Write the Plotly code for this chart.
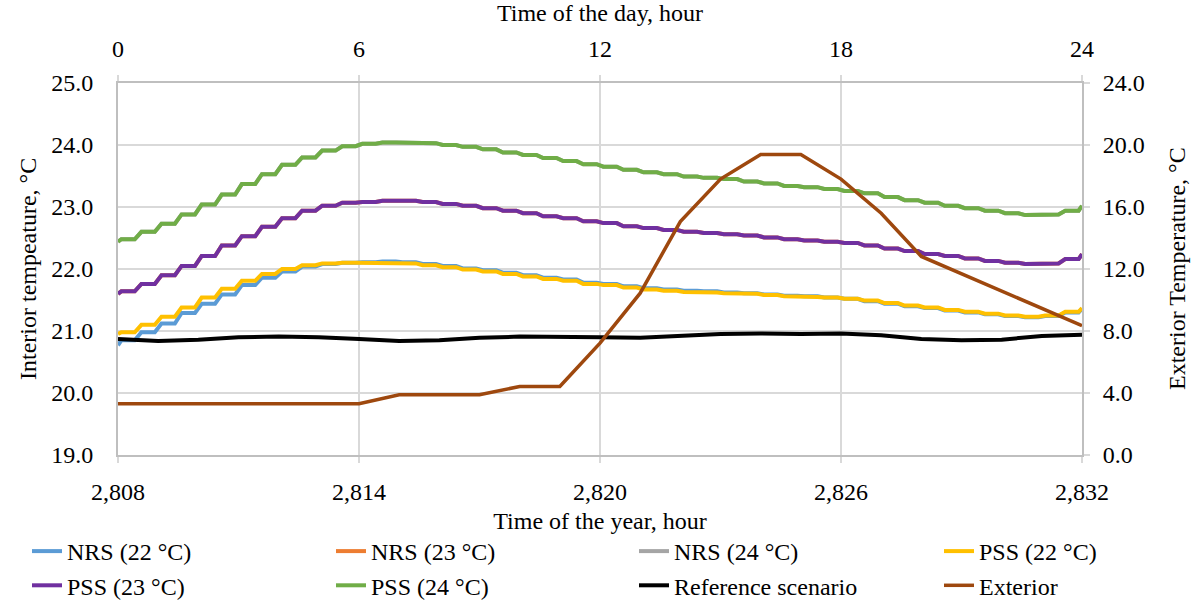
import plotly.graph_objects as go

# ---------------- data ----------------
year_start = 2808
x_ticks_year = [2808, 2814, 2820, 2826, 2832]
x_ticks_day = [0, 6, 12, 18, 24]
hours = list(range(0, 25))

# half-hourly step levels (48 steps) + first / last sample
nrs_22_start, nrs_22_end = 20.77, 21.36
nrs_22 = [20.85, 20.98, 21.12, 21.29, 21.44, 21.59, 21.74, 21.86, 21.96, 22.04, 22.08, 22.10,
          22.11, 22.12, 22.11, 22.08, 22.05, 22.01, 21.98, 21.94, 21.90, 21.86, 21.83, 21.78,
          21.76, 21.72, 21.69, 21.67, 21.65, 21.64, 21.62, 21.61, 21.59, 21.57, 21.56, 21.54,
          21.52, 21.48, 21.44, 21.40, 21.37, 21.33, 21.30, 21.27, 21.24, 21.22, 21.24, 21.30]

pss_22_start, pss_22_end = 20.95, 21.37
pss_22 = [20.98, 21.10, 21.23, 21.38, 21.54, 21.68, 21.81, 21.92, 22.00, 22.06, 22.09, 22.10,
          22.10, 22.10, 22.09, 22.06, 22.03, 21.99, 21.96, 21.92, 21.88, 21.84, 21.81, 21.76,
          21.74, 21.70, 21.67, 21.65, 21.63, 21.62, 21.61, 21.60, 21.58, 21.56, 21.55, 21.54,
          21.52, 21.49, 21.45, 21.41, 21.38, 21.34, 21.31, 21.28, 21.25, 21.23, 21.25, 21.31]

pss_23_start, pss_23_end = 21.60, 22.24
pss_23 = [21.64, 21.76, 21.90, 22.05, 22.21, 22.38, 22.53, 22.68, 22.82, 22.94, 23.02, 23.07,
          23.08, 23.10, 23.10, 23.08, 23.05, 23.02, 22.98, 22.94, 22.90, 22.85, 22.82, 22.77,
          22.74, 22.69, 22.66, 22.63, 22.60, 22.58, 22.56, 22.54, 22.51, 22.48, 22.46, 22.44,
          22.42, 22.38, 22.33, 22.29, 22.24, 22.21, 22.17, 22.13, 22.10, 22.08, 22.09, 22.16]

pss_24_start, pss_24_end = 22.44, 23.02
pss_24 = [22.48, 22.60, 22.73, 22.88, 23.04, 23.20, 23.37, 23.53, 23.68, 23.80, 23.91, 23.98,
          24.02, 24.04, 24.04, 24.03, 24.00, 23.97, 23.93, 23.88, 23.84, 23.79, 23.74, 23.69,
          23.65, 23.60, 23.56, 23.53, 23.49, 23.47, 23.45, 23.41, 23.38, 23.34, 23.32, 23.29,
          23.26, 23.22, 23.16, 23.11, 23.07, 23.02, 22.98, 22.94, 22.90, 22.87, 22.88, 22.94]

# NRS 23 / 24 lie underneath the PSS 23 / 24 curves
nrs_23_start, nrs_23_end = pss_23_start, pss_23_end
nrs_23 = list(pss_23)
nrs_24_start, nrs_24_end = pss_24_start, pss_24_end
nrs_24 = list(pss_24)

# hourly samples
reference = [20.87, 20.84, 20.86, 20.90, 20.91, 20.90, 20.87, 20.84, 20.85, 20.89, 20.91, 20.91,
             20.90, 20.89, 20.92, 20.95, 20.96, 20.95, 20.96, 20.93, 20.87, 20.85, 20.86, 20.92, 20.94]
exterior = [3.31, 3.31, 3.31, 3.31, 3.31, 3.31, 3.31, 3.89, 3.89, 3.89, 4.42, 4.42,
            7.22, 10.44, 15.06, 17.80, 19.38, 19.38, 17.80, 15.60, 12.81, 11.69, 10.59, 9.48, 8.34]


def stair(start, steps, end):
    xs, ys = [year_start], [start]
    for k, v in enumerate(steps):
        t = year_start + 0.5 * k
        xs += [t + 1 / 12, t + 5 / 12]
        ys += [v, v]
    xs.append(year_start + 24)
    ys.append(end)
    return xs, ys


FONT = "Liberation Serif"
FS = 24
GRID = "#d9d9d9"
AX = "#bfbfbf"

fig = go.Figure()
# (name, start, steps, end, colour, legend column)
series = [
    ("NRS (22 °C)", nrs_22_start, nrs_22, nrs_22_end, "#5B9BD5", "legend"),
    ("NRS (23 °C)", nrs_23_start, nrs_23, nrs_23_end, "#ED7D31", "legend2"),
    ("NRS (24 °C)", nrs_24_start, nrs_24, nrs_24_end, "#A5A5A5", "legend3"),
    ("PSS (22 °C)", pss_22_start, pss_22, pss_22_end, "#FFC000", "legend4"),
    ("PSS (23 °C)", pss_23_start, pss_23, pss_23_end, "#7030A0", "legend"),
    ("PSS (24 °C)", pss_24_start, pss_24, pss_24_end, "#70AD47", "legend2"),
]
for name, s, vals, e, col, lg in series:
    xs, ys = stair(s, vals, e)
    fig.add_trace(go.Scatter(x=xs, y=ys, name=name, mode="lines", legend=lg,
                             line=dict(color=col, width=4)))

fig.add_trace(go.Scatter(x=[year_start + h for h in hours], y=reference, name="Reference scenario",
                         mode="lines", line=dict(color="#000000", width=4), legend="legend3"))
fig.add_trace(go.Scatter(x=[year_start + h for h in hours], y=exterior, name="Exterior",
                         mode="lines", line=dict(color="#9E480E", width=3.5), yaxis="y2",
                         legend="legend4"))
# carrier for the top (time of day) axis
fig.add_trace(go.Scatter(x=hours, y=[None] * len(hours), xaxis="x2", showlegend=False,
                         hoverinfo="skip", mode="lines"))

tickfont = dict(family=FONT, size=FS, color="#000000")


def legend_at(xpx):
    return dict(orientation="v", xref="container", yref="container",
                x=xpx / 1192, y=(602 - 529) / 602, xanchor="left", yanchor="top",
                tracegroupgap=0, traceorder="normal",
                font=dict(family=FONT, size=FS, color="#000000"),
                bgcolor="rgba(0,0,0,0)", itemwidth=30)


fig.update_layout(
    width=1192, height=602,
    margin=dict(l=118, r=110, t=83, b=147, autoexpand=False),
    paper_bgcolor="white", plot_bgcolor="white",
    font=dict(family=FONT, size=FS, color="#000000"),
    xaxis=dict(range=[2808, 2832], tickvals=x_ticks_year, tickformat=",d",
               showgrid=True, gridcolor=GRID, gridwidth=1.5,
               showline=True, linecolor=AX, linewidth=2,
               ticks="outside", ticklen=6, tickcolor=GRID, tickwidth=1.5,
               tickfont=tickfont, zeroline=False, ticklabelstandoff=8,
               title=dict(text="Time of the year, hour", font=tickfont, standoff=8),
               automargin=False),
    xaxis2=dict(range=[0, 24], tickvals=x_ticks_day, overlaying="x", side="top",
                showgrid=False, showline=True, linecolor=AX, linewidth=2,
                ticks="outside", ticklen=6, tickcolor=GRID, tickwidth=1.5,
                tickfont=tickfont, zeroline=False, ticklabelstandoff=8,
                title=dict(text="Time of the day, hour", font=tickfont, standoff=8),
                automargin=False),
    yaxis=dict(range=[19, 25], dtick=1, tick0=19, tickformat=".1f",
               showgrid=True, gridcolor=GRID, gridwidth=1.5,
               showline=True, linecolor=AX, linewidth=2, ticks="",
               tickfont=tickfont, zeroline=False, ticklabelstandoff=18,
               automargin=False),
    yaxis2=dict(range=[0, 24], dtick=4, tick0=0, tickformat=".1f", overlaying="y", side="right",
                showgrid=False, showline=True, linecolor=AX, linewidth=2,
                ticks="outside", ticklen=6, tickcolor=GRID, tickwidth=1.5,
                tickfont=tickfont, zeroline=False, ticklabelstandoff=8,
                automargin=False),
    annotations=[
        dict(text="Interior tempeature, °C", xref="paper", yref="paper",
             x=(28 - 118) / 964, y=0.5, textangle=-90, showarrow=False,
             xanchor="center", yanchor="middle", font=tickfont),
        dict(text="Exterior Temperature, °C", xref="paper", yref="paper",
             x=(1177 - 118) / 964, y=0.5, textangle=-90, showarrow=False,
             xanchor="center", yanchor="middle", font=tickfont),
    ],
    legend=legend_at(27),
    legend2=legend_at(331),
    legend3=legend_at(634),
    legend4=legend_at(939),
    showlegend=True,
)

fig.write_html("out.html")
